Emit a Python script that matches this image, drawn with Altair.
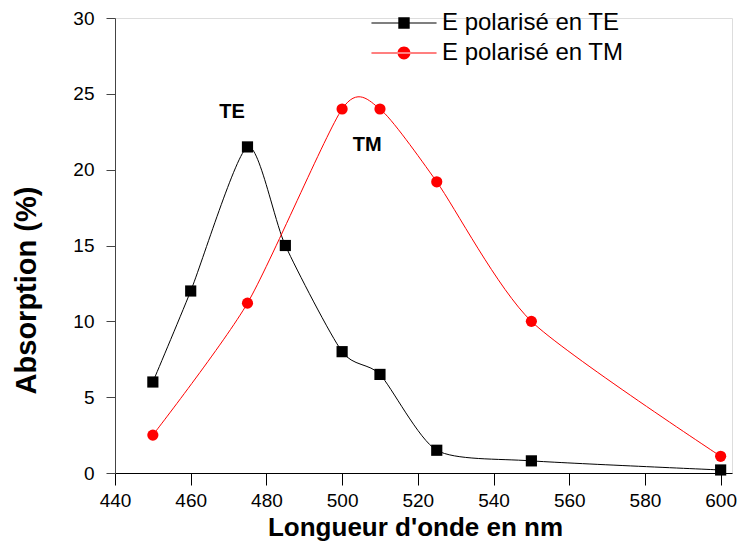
import altair as alt
import pandas as pd

# ---- data ----
te_x = [450, 460, 475, 485, 500, 510, 525, 550, 600]
te_y = [6.0, 12.0, 21.5, 15.0, 8.0, 6.5, 1.5, 0.8, 0.2]
tm_x = [450, 475, 500, 510, 525, 550, 600]
tm_y = [2.5, 11.2, 24.0, 24.0, 19.2, 10.0, 1.1]
series_names = ["E polarisé en TE", "E polarisé en TM"]
series_colors = ["#000000", "#ff0000"]
annot_text = ["TE", "TM"]
annot_x = [470.9, 506.6]
annot_y = [23.8, 21.6]

df = pd.DataFrame(
    {"x": te_x + tm_x,
     "y": te_y + tm_y,
     "series": [series_names[0]] * len(te_x) + [series_names[1]] * len(tm_x)}
)
ann = pd.DataFrame({"t": annot_text, "x": annot_x, "y": annot_y})

FONT = "Liberation Sans"

xscale = alt.Scale(domain=[440, 603], nice=False, zero=False)
yscale = alt.Scale(domain=[0, 30], nice=False)
cscale = alt.Scale(domain=series_names, range=series_colors)

xaxis = alt.Axis(
    title="Longueur d'onde en nm",
    values=list(range(440, 601, 10)),
    labelExpr="datum.value % 20 === 0 ? datum.label : ''",
    grid=False,
    tickSize={"condition": {"test": "datum.value % 20 === 0", "value": 12}, "value": 6},
    labelFontSize=19, labelFont=FONT, labelColor="#000", labelPadding=6,
    titleFontSize=26, titleFont=FONT, titleFontWeight="bold", titleColor="#000",
    titleBaseline="middle", titleX=300, titleY=54,
    domainColor="#000", tickColor="#000", labelFlush=False,
)
yaxis = alt.Axis(
    title="Absorption (%)",
    values=[v * 2.5 for v in range(0, 13)],
    labelExpr="datum.value % 5 === 0 ? datum.label : ''",
    grid=False,
    tickSize={"condition": {"test": "datum.value % 5 === 0", "value": 9}, "value": 4},
    labelFontSize=19, labelFont=FONT, labelColor="#000", labelPadding=12,
    titleFontSize=29, titleFont=FONT, titleFontWeight="bold", titleColor="#000",
    titleBaseline="middle", titleX=-89, titleY=272,
    domainColor="#444", tickColor="#444", labelFlush=False,
)

base = alt.Chart(df)

lines = base.mark_line(interpolate="cardinal", tension=0.3, strokeWidth=1, clip=True).encode(
    x=alt.X("x:Q", scale=xscale, axis=xaxis),
    y=alt.Y("y:Q", scale=yscale, axis=yaxis),
    color=alt.Color("series:N", scale=cscale, legend=None),
)

points = base.mark_point(filled=True, opacity=1).encode(
    x="x:Q", y="y:Q",
    color=alt.Color("series:N", scale=cscale, legend=None),
    shape=alt.Shape("series:N", scale=alt.Scale(domain=series_names, range=["square", "circle"]), legend=None),
    size=alt.Size("series:N", scale=alt.Scale(domain=series_names, range=[125, 125]), legend=None),
)

# legend symbols: line + marker as custom paths (unit = sqrt(size)/2 = 15 px)
te_path = "M-2.17,-0.035H2.17V0.035H-2.17Z M-0.38,-0.38H0.38V0.38H-0.38Z"
tm_path = ("M-2.17,-0.035H2.17V0.035H-2.17Z "
           "M-0.43,0A0.43,0.43 0 1,0 0.43,0A0.43,0.43 0 1,0 -0.43,0Z")

leg = dict(
    title=None, orient="none", legendX=274, legendY=-10,
    symbolSize=900, symbolOpacity=1, symbolStrokeWidth=0,
    labelFontSize=24, labelFont=FONT, labelColor="#000",
    labelOffset=23, rowPadding=3, labelLimit=400, padding=0,
)

legend_layer = base.mark_point(filled=True, opacity=0).encode(
    x="x:Q", y="y:Q",
    color=alt.Color("series:N", scale=cscale, legend=alt.Legend(**leg)),
    shape=alt.Shape(
        "series:N", scale=alt.Scale(domain=series_names, range=[te_path, tm_path]),
        legend=alt.Legend(**leg),
    ),
)

text = alt.Chart(ann).mark_text(
    font=FONT, fontSize=20, fontWeight="bold", color="#000"
).encode(x="x:Q", y="y:Q", text="t:N")

chart = (
    alt.layer(lines, points, legend_layer, text)
    .resolve_scale(shape="independent", color="independent", size="independent")
    .properties(
        width=617, height=455,
        autosize=alt.AutoSizeParams(type="none"),
        padding={"left": 107, "top": 10, "right": 7, "bottom": 70},
    )
    .configure_view(strokeWidth=0)
    .configure(background="white")
)

chart.save("out.html", embed_options={"renderer": "svg", "actions": False})
